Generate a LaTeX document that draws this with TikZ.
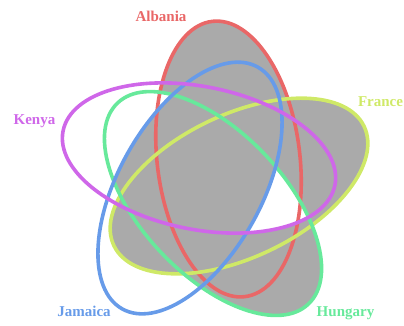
\documentclass[tikz,border=0pt]{standalone}
\usepackage{fontspec}
\setmainfont{Liberation Serif}
\definecolor{cA}{RGB}{233,103,103}
\definecolor{cF}{RGB}{207,233,103}
\definecolor{cH}{RGB}{103,233,155}
\definecolor{cJ}{RGB}{103,155,233}
\definecolor{cK}{RGB}{207,103,233}
\definecolor{cG}{RGB}{170,170,170}
\def\EA{[rotate around={96.7:(228.5,159)}] (228.5,159) ellipse [x radius=138.6pt, y radius=71.4pt]}
\def\EF{[rotate around={25.5:(239,186)}] (239,186) ellipse [x radius=138.6pt, y radius=71.4pt]}
\def\EH{[rotate around={-46.5:(213,203.5)}] (213,203.5) ellipse [x radius=138.6pt, y radius=71.4pt]}
\def\EJ{[rotate around={60.7:(190,188)}] (190,188) ellipse [x radius=138.6pt, y radius=71.4pt]}
\def\EK{[rotate around={-11.3:(199,158)}] (199,158) ellipse [x radius=138.6pt, y radius=71.4pt]}
\begin{document}
\begin{tikzpicture}[x=1pt,y=-1pt,
  ring/.style={line width=3.6pt},
  grayfill/.style={fill=cG},
  lab/.style={font=\fontsize{15}{18}\selectfont\bfseries, anchor=base, inner sep=0pt}]
\useasboundingbox (0,0) rectangle (404,325);
% shaded region: (A u F u H) minus (H n K minus J)
\fill[grayfill] \EA;
\fill[grayfill] \EF;
\fill[grayfill] \EH;
\begin{scope}
  \clip \EH;
  \clip \EK;
  \fill[white] (0,0) rectangle (404,325);
  \clip \EJ;
  \fill[grayfill] (0,0) rectangle (404,325);
\end{scope}
% outlines
\draw[ring, cA] \EA;
\draw[ring, cF] \EF;
\draw[ring, cH] \EH;
\draw[ring, cJ] \EJ;
\draw[ring, cK] \EK;
% labels
\node[lab, text=cA] (albania) at (161,21.5) {Albania};
\node[lab, text=cF] (france) at (380.5,106) {France};
\node[lab, text=cH] (hungary) at (345.5,316.5) {Hungary};
\node[lab, text=cJ] (jamaica) at (84,316.5) {Jamaica};
\node[lab, text=cK] (kenya) at (34.5,124.5) {Kenya};
\end{tikzpicture}
\end{document}
